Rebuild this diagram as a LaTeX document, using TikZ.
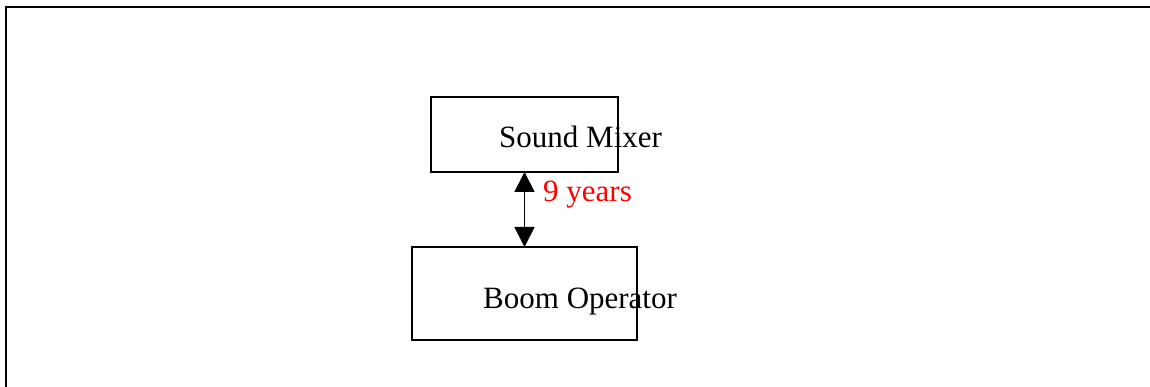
\documentclass[tikz,border=0pt]{standalone}
\usepackage{fontspec}
\setmainfont{Liberation Serif}
\usetikzlibrary{arrows.meta, positioning}

\begin{document}
\begin{tikzpicture}[x=1pt, y=-1pt,
  role/.style={draw, line width=1.2pt, inner sep=0pt, outer sep=0pt},
  rolename/.style={anchor=base west, inner sep=0pt, font=\fontsize{31}{36}\selectfont},
  span/.style={{Triangle[length=20pt, width=20pt]}-{Triangle[length=20pt, width=20pt]}, line width=1.8pt},
]
  \useasboundingbox (0,0) rectangle (1150,387);
  \draw[line width=2pt] (6,387) -- (6,7.5) -- (1150,7.5);
  \node[role, minimum width=187pt, minimum height=75pt] (mixer) at (524.5,134.5) {};
  \node[role, minimum width=225pt, minimum height=93pt] (boom) at (524.5,293.5) {};
  \node[rolename] (mixerlabel) at (499,148) {Sound Mixer};
  \node[rolename] (boomlabel) at (483,308) {Boom Operator};
  \draw[span] (mixer) -- (boom);
  \node[rolename, text=red] (tenure) at (543,202) {9 years};
\end{tikzpicture}
\end{document}
